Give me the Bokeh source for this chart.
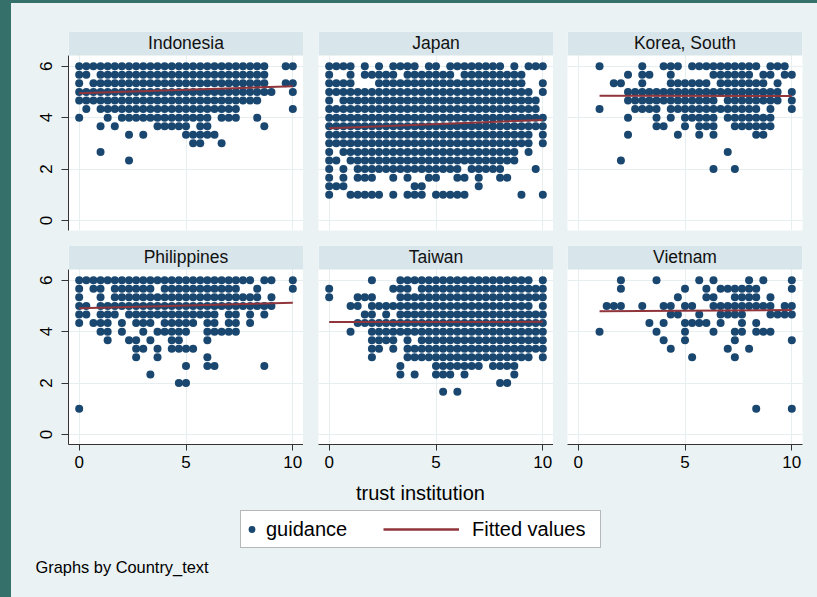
from bokeh.plotting import figure
from bokeh.models import Range1d, FixedTicker, BoxAnnotation, Label, Legend, LegendItem, Spacer
from bokeh.layouts import row, column
from bokeh.embed import file_html
from bokeh.resources import INLINE

# ---------------- data ----------------
# Each entry: (guidance in thirds, trust-institution positions in thirds, 0..30)
indonesia = [
    (18, "0-26 29 30"),
    (17, "0 1 3-26"),
    (16, "0 2-26 29 30"),
    (15, "0-27 30"),
    (14, "0-25"),
    (13, "1 3-22 30"),
    (12, "0 4 6-18 20-22 25"),
    (11, "3 5 11-15 17 18 26"),
    (10, "7 9 15-19"),
    (9, "16 17 20"),
    (8, "3"),
    (7, "7"),
]
japan = [
    (18, "0-3 5 7 9-12 14 15 17-24 26 28-30"),
    (17, "0 3 5-9 11-17 19-27"),
    (16, "0-3 7-27 30"),
    (15, "0-28 30"),
    (14, "0 2-29"),
    (13, "0-29"),
    (12, "0-30"),
    (11, "0-30"),
    (10, "0-28 30"),
    (9, "0-28 30"),
    (8, "0 2-26 28"),
    (7, "0 1 3-26"),
    (6, "0 2 4-18 20-24 29"),
    (5, "0 2 4-6 9 11 14 15 18 19 21 24 25"),
    (4, "0-2 12 13 21"),
    (3, "0 3-7 9 11-13 15-19 27 30"),
]
korea = [
    (18, "3 9 12-14 16-25 27-29"),
    (17, "7 9 10 13 19-24 26 27 29 30"),
    (16, "5 6 9 13-18 20-26 28"),
    (15, "7-28 30"),
    (14, "7-19 21-28 30"),
    (13, "3 8-11 13-25 27 30"),
    (12, "7 11 13 15-19 21-27"),
    (11, "11 12 15 17-19 22-27"),
    (10, "7 14 17 19 25 26"),
    (8, "21"),
    (7, "6"),
    (6, "19 22"),
]
philippines = [
    (18, "0-24 26 27 30"),
    (17, "0 2 3 5-10 12-22 25 30"),
    (16, "0 3 5-25 27"),
    (15, "0 1 3-27"),
    (14, "0 1 3-5 7-19 21 22 24 26"),
    (13, "0 2-4 6 8-10 12-16 18 19 21 22 24"),
    (12, "3 4 6 9 11-15 18-22"),
    (11, "4 7 8 10 13 14 18"),
    (10, "8 9 11 13-16"),
    (9, "8 11 18"),
    (8, "15 18 19 26"),
    (7, "10"),
    (6, "14 15"),
    (3, "0"),
]
taiwan = [
    (18, "6 10-28 30"),
    (17, "0 9-11 13-30"),
    (16, "0 4-6 10-30"),
    (15, "3 4 6-28 30"),
    (14, "5 6 8 10-30"),
    (13, "4-30"),
    (12, "3 6-30"),
    (11, "6-9 11 13-30"),
    (10, "6 7 9 11-30"),
    (9, "6 11-28 30"),
    (8, "10 15-21 23-26"),
    (7, "10 12 15-17 19 26"),
    (6, "24 25"),
    (5, "16 18"),
]
vietnam = [
    (18, "6 11 17 19 24 26 30"),
    (17, "6 15 18 20-25 30"),
    (16, "14 18 19 22-25 27"),
    (15, "4-6 9 12 13 15 16 19-27 29 30"),
    (14, "13 14 17 20-23 27-30"),
    (13, "10 12 15-18 20 23 25"),
    (12, "3 11 15 19 22 23 25-27"),
    (11, "12 15 22 30"),
    (10, "13 21 24"),
    (9, "16 22"),
    (3, "25 30"),
]

countries = ["Indonesia", "Japan", "Korea, South", "Philippines", "Taiwan", "Vietnam"]
country_rows = [indonesia, japan, korea, philippines, taiwan, vietnam]

# fitted values line: start x, value at start, value at x = 10
fit_x_start = [0, 0, 1, 0, 0, 1]
fit_x_end = [10, 10, 10, 10, 10, 10]
fit_y_start = [4.95, 3.59, 4.85, 4.91, 4.37, 4.79]
fit_y_end = [5.22, 3.91, 4.84, 5.12, 4.38, 4.84]

x_ticks = [0, 5, 10]
y_ticks = [0, 2, 4, 6]

# ---------------- style ----------------
FONT = "Liberation Sans"
BG = "#eaf2f3"
STRIP = "#d8e5ea"
TEAL = "#36706b"
NAVY = "#1a476f"
MAROON = "#90353b"
GRID = "#e6eef0"
AXIS = "#333333"

FW, FH = 235, 199
X_LO, X_HI = -0.5, 10.5
Y_LO, Y_TOP, Y_HI = -0.389, 6.416, 7.349


def expand(spec):
    out = []
    for tok in spec.split():
        if "-" in tok:
            a, b = tok.split("-")
            out.extend(range(int(a), int(b) + 1))
        else:
            out.append(int(tok))
    return out


def style_axis(ax, ticks):
    ax.ticker = FixedTicker(ticks=ticks)
    ax.major_tick_in = 0
    ax.minor_tick_line_color = None
    ax.axis_line_color = AXIS
    ax.major_tick_line_color = AXIS
    ax.major_label_text_font = FONT
    ax.major_label_text_font_size = "17px"
    ax.major_label_text_color = "black"


def make_panel(i, left, right, top, bottom, yaxis, xaxis):
    p = figure(width=left + FW + right, height=top + FH + bottom,
               x_range=Range1d(X_LO, X_HI), y_range=Range1d(Y_LO, Y_HI),
               x_axis_location="below" if xaxis else None,
               y_axis_location="left" if yaxis else None,
               output_backend="svg", toolbar_location=None,
               min_border_left=left, min_border_right=right,
               min_border_top=top, min_border_bottom=bottom,
               background_fill_color="white", border_fill_color=BG,
               outline_line_color=None)
    p.xgrid.ticker = FixedTicker(ticks=x_ticks)
    p.ygrid.ticker = FixedTicker(ticks=y_ticks)
    p.grid.grid_line_color = GRID
    p.grid.grid_line_width = 1

    xs, ys = [], []
    for g3, spec in country_rows[i]:
        for t3 in expand(spec):
            xs.append(t3 / 3)
            ys.append(g3 / 3)
    p.scatter(xs, ys, size=8, fill_color=NAVY, line_color=None)
    p.line([fit_x_start[i], fit_x_end[i]], [fit_y_start[i], fit_y_end[i]],
           line_color=MAROON, line_width=2)

    p.add_layout(BoxAnnotation(bottom=Y_TOP, fill_color=STRIP, fill_alpha=1,
                               line_color=None))
    p.add_layout(Label(x=5, y=(Y_TOP + Y_HI) / 2, text=countries[i],
                       text_align="center", text_baseline="middle",
                       text_font=FONT, text_font_size="17.5px",
                       text_color="#111111"))
    if yaxis:
        ax = p.yaxis[0]
        style_axis(ax, y_ticks)
        ax.bounds = (Y_LO, Y_TOP)
        ax.major_tick_out = 7
        ax.major_label_orientation = "vertical"
        ax.major_label_standoff = 9
    if xaxis:
        ax = p.xaxis[0]
        style_axis(ax, x_ticks)
        ax.major_tick_out = 6
        ax.major_label_standoff = 5
    return p


p1 = make_panel(0, 57, 0, 28, 15, True, False)
p2 = make_panel(1, 15, 0, 28, 15, False, False)
p3 = make_panel(2, 14, 15, 28, 15, False, False)
p4 = make_panel(3, 57, 0, 0, 33, True, True)
p5 = make_panel(4, 15, 0, 0, 33, False, True)
p6 = make_panel(5, 14, 15, 0, 33, False, True)

# bottom area: axis title, legend and note (coordinates in pixels from bottom-left)
BW, BH = 806, 120
b = figure(width=BW, height=BH, x_range=Range1d(0, BW), y_range=Range1d(0, BH),
           x_axis_location=None, y_axis_location=None,
           output_backend="svg", toolbar_location=None,
           min_border_left=0, min_border_right=0, min_border_top=0, min_border_bottom=0,
           background_fill_color=BG, border_fill_color=BG, outline_line_color=None)
b.grid.visible = False

b.add_layout(Label(x=409, y=105, text="trust institution", text_align="center",
                   text_baseline="middle", text_font=FONT, text_font_size="20px",
                   text_color="black"))
b.add_layout(Label(x=24, y=31, text="Graphs by Country_text", text_align="left",
                   text_baseline="middle", text_font=FONT, text_font_size="16.4px",
                   text_color="black"))
b.add_layout(BoxAnnotation(left=229, right=589, bottom=50, top=87,
                           fill_color="white", fill_alpha=1,
                           line_color="#222222", line_width=1))

# legend proxies (placed outside the visible range of this annotation strip)
r_dot = b.scatter(x=[-50], y=[-50], size=8, fill_color=NAVY, line_color=None)
r_line = b.line(x=[-60, -50], y=[-50, -50], line_color=MAROON, line_width=2.5)


def make_legend(renderer, label, loc, gw, standoff):
    return Legend(items=[LegendItem(label=label, renderers=[renderer])],
                  location=loc, orientation="horizontal",
                  glyph_width=gw, glyph_height=24, label_standoff=standoff,
                  padding=0, margin=0, spacing=0,
                  border_line_color=None, background_fill_alpha=0,
                  label_text_font=FONT, label_text_font_size="20px",
                  label_text_color="black", label_text_baseline="middle")


b.add_layout(make_legend(r_dot, "guidance", (232, 56), 17, 6))
b.add_layout(make_legend(r_line, "Fitted values", (372, 56), 76, 13))

content = column(row(p1, p2, p3), row(p4, p5, p6), b,
                 styles={"background-color": BG})
root = column(Spacer(width=817, height=3),
              row(Spacer(width=11, height=594), content),
              styles={"background-color": TEAL})

open("out.html", "w").write(file_html(root, INLINE))
